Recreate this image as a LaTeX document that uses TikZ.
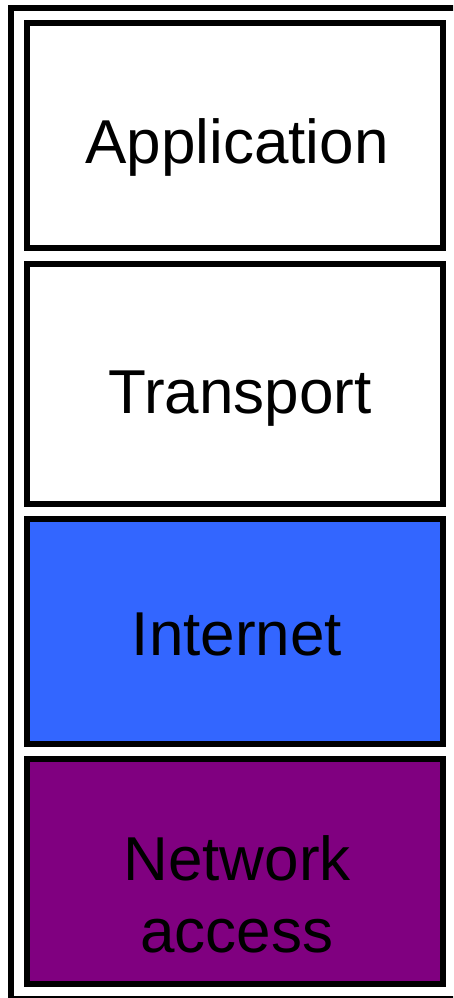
\documentclass[tikz,border=0pt]{standalone}
\usepackage{fontspec}
\setmainfont{Liberation Sans}
\definecolor{netblue}{HTML}{3366FF}
\definecolor{netpurple}{HTML}{800080}
\begin{document}
\begin{tikzpicture}[x=1pt,y=-1pt,
  layer/.style={draw=black,line width=6pt,inner sep=0pt,minimum width=416pt},
  lbl/.style={anchor=base,inner sep=0pt,font=\fontsize{62}{72}\selectfont},
  frame/.style={draw=black,line width=6pt}]
\useasboundingbox (0,0) rectangle (453,998);
\begin{scope}
\clip (0,0) rectangle (453,998);
\draw[frame] (11,8) rectangle (458,999);
\end{scope}
\node[layer,minimum height=225pt] (app) at (235,135.5) {};
\node[layer,minimum height=240pt] (tra) at (235,384) {};
\node[layer,fill=netblue,minimum height=225pt] (int) at (235,631.5) {};
\node[layer,fill=netpurple,minimum height=225pt] (net) at (235,871.5) {};
\node[lbl] (appt) at (237,163) {Application};
\node[lbl] (trat) at (240,413) {Transport};
\node[lbl] (intt) at (237,655) {Internet};
\node[lbl] (nett1) at (237,880) {Network};
\node[lbl] (nett2) at (237,952) {access};
\end{tikzpicture}
\end{document}
